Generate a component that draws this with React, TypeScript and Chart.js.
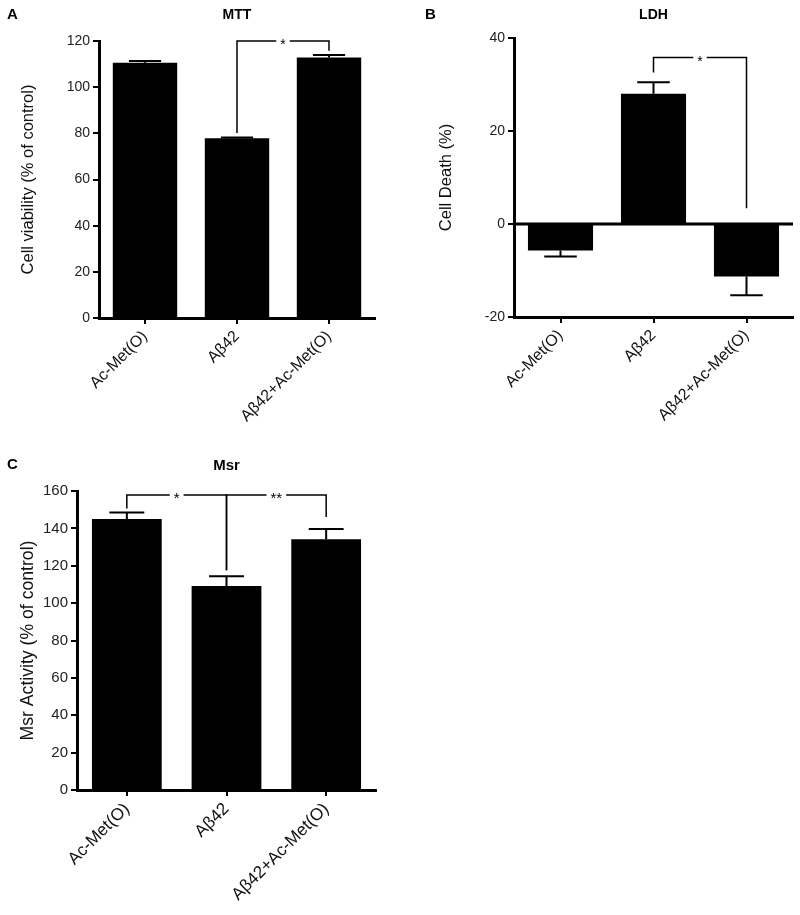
import React, { useEffect, useRef } from 'react';
import { Chart, registerables } from 'chart.js';

Chart.register(...registerables);
Chart.defaults.font.family = '"Liberation Sans", Arial, Helvetica, sans-serif';

// ---------- data ----------
const categories = ['Ac-Met(O)', 'Aβ42', 'Aβ42+Ac-Met(O)'];

const mttValues = [110.6, 77.9, 112.8];
const mttErrors = [0.7, 0.3, 1.1];
const mttTicks = { min: 0, max: 120, step: 20 };

const ldhValues = [-5.7, 28.0, -11.3];
const ldhErrors = [1.3, 2.5, 4.0];
const ldhTicks = { min: -20, max: 40, step: 20 };

const msrValues = [145.0, 109.1, 134.2];
const msrErrors = [3.5, 5.3, 5.5];
const msrTicks = { min: 0, max: 160, step: 20 };

// significance brackets: [fromIndex, toIndex, lineValue, leftLegEnd, rightLegEnd, label]
const mttBrackets: [number, number, number, number, number, string][] = [[1, 2, 120, 80.1, 115.8, '*']];
const ldhBrackets: [number, number, number, number, number, string][] = [[1, 2, 35.8, 32.6, 3.4, '*']];
const msrBrackets: [number, number, number, number, number, string][] = [
  [0, 1, 157.9, 150.6, 117.6, '*'],
  [1, 2, 157.9, 117.6, 146.1, '**'],
];

// ---------- layout ----------
type PanelSpec = {
  letter: string;
  title: string;
  yTitle: string;
  values: number[];
  errors: number[];
  brackets: [number, number, number, number, number, string][];
  ticks: { min: number; max: number; step: number };
  zeroLine: boolean;
  left: number;
  top: number;
  width: number;
  height: number;
  area: { left: number; top: number; right: number; bottom: number };
  yTitleCenter: number;
  titleY: number;
  letterX: number;
  letterY: number;
  fontScale: number;
};

const panels: PanelSpec[] = [
  {
    letter: 'A', title: 'MTT', yTitle: 'Cell viability (% of control)',
    values: mttValues, errors: mttErrors, brackets: mttBrackets, ticks: mttTicks, zeroLine: false,
    left: 0, top: 0, width: 400, height: 450,
    area: { left: 99, top: 41, right: 375, bottom: 318 },
    yTitleCenter: 28, titleY: 15, letterX: 7, letterY: 15, fontScale: 1,
  },
  {
    letter: 'B', title: 'LDH', yTitle: 'Cell Death (%)',
    values: ldhValues, errors: ldhErrors, brackets: ldhBrackets, ticks: ldhTicks, zeroLine: true,
    left: 400, top: 0, width: 400, height: 450,
    area: { left: 114, top: 38, right: 393, bottom: 317 },
    yTitleCenter: 46, titleY: 15, letterX: 25, letterY: 15, fontScale: 1,
  },
  {
    letter: 'C', title: 'Msr', yTitle: 'Msr Activity (% of control)',
    values: msrValues, errors: msrErrors, brackets: msrBrackets, ticks: msrTicks, zeroLine: false,
    left: 0, top: 450, width: 400, height: 465,
    area: { left: 77, top: 41, right: 376, bottom: 340 },
    yTitleCenter: 28, titleY: 16, letterX: 7, letterY: 15, fontScale: 1.07,
  },
];

const FONT = '"Liberation Sans", Arial, Helvetica, sans-serif';

const annotatePlugin = {
  id: 'annotate',
  afterDatasetsDraw(chart: any, _args: any, opts: any) {
    const spec: PanelSpec = opts.spec;
    const { ctx, chartArea } = chart;
    const xs = chart.scales.x;
    const ys = chart.scales.y;
    const meta = chart.getDatasetMeta(0);
    ctx.save();
    ctx.strokeStyle = '#000';
    ctx.fillStyle = '#000';

    if (spec.zeroLine) {
      const zy = ys.getPixelForValue(0);
      ctx.lineWidth = 3;
      ctx.beginPath();
      ctx.moveTo(chartArea.left, zy);
      ctx.lineTo(chartArea.right, zy);
      ctx.stroke();
    }

    // error bars
    ctx.lineWidth = 2;
    meta.data.forEach((bar: any, i: number) => {
      const v = spec.values[i];
      const e = spec.errors[i];
      const end = v >= 0 ? v + e : v - e;
      const px = bar.x;
      const p0 = ys.getPixelForValue(v);
      const p1 = ys.getPixelForValue(end);
      const half = bar.width / 4;
      ctx.beginPath();
      ctx.moveTo(px, p0);
      ctx.lineTo(px, p1);
      ctx.moveTo(px - half, p1);
      ctx.lineTo(px + half, p1);
      ctx.stroke();
    });

    // brackets
    ctx.lineWidth = 1.5;
    ctx.font = `${14 * spec.fontScale}px ${FONT}`;
    spec.brackets.forEach(([a, b, lv, le, re, label]) => {
      const xa = xs.getPixelForValue(a);
      const xb = xs.getPixelForValue(b);
      const yl = ys.getPixelForValue(lv);
      const ya = ys.getPixelForValue(le);
      const yb = ys.getPixelForValue(re);
      const mid = (xa + xb) / 2;
      const tw = ctx.measureText(label).width;
      const gap = tw / 2 + 4;
      ctx.beginPath();
      ctx.moveTo(xa, ya);
      ctx.lineTo(xa, yl);
      ctx.lineTo(mid - gap, yl);
      ctx.moveTo(mid + gap, yl);
      ctx.lineTo(xb, yl);
      ctx.lineTo(xb, yb);
      ctx.stroke();
      ctx.textAlign = 'center';
      ctx.textBaseline = 'alphabetic';
      ctx.fillText(label, mid, yl + 8);
    });

    // title and panel letter
    ctx.font = `bold ${14 * spec.fontScale}px ${FONT}`;
    ctx.textAlign = 'center';
    ctx.textBaseline = 'middle';
    ctx.fillText(spec.title, (chartArea.left + chartArea.right) / 2, spec.titleY);
    ctx.font = `bold 15px ${FONT}`;
    ctx.textAlign = 'left';
    ctx.fillText(spec.letter, spec.letterX, spec.letterY);
    ctx.restore();
  },
};

function Panel({ spec }: { spec: PanelSpec }) {
  const ref = useRef<HTMLCanvasElement | null>(null);
  useEffect(() => {
    if (!ref.current) return;
    const a = spec.area;
    const s = spec.fontScale;
    const yTitleSize = 16.5 * s;
    const chart = new Chart(ref.current, {
      type: 'bar',
      data: {
        labels: categories,
        datasets: [
          {
            data: spec.values,
            backgroundColor: '#000',
            borderWidth: 0,
            barPercentage: 0.7,
            categoryPercentage: 1,
          },
        ],
      },
      options: {
        responsive: false,
        animation: false,
        devicePixelRatio: 1,
        layout: { padding: { left: 0, top: a.top, right: spec.width - a.right, bottom: 0 } },
        plugins: {
          legend: { display: false },
          tooltip: { enabled: false },
          annotate: { spec },
        } as any,
        scales: {
          x: {
            type: 'category',
            offset: true,
            grid: {
              display: true,
              drawOnChartArea: false,
              drawTicks: true,
              offset: false,
              tickLength: 6,
              lineWidth: 2,
              color: '#000',
            },
            border: { display: true, width: 3, color: '#000' },
            ticks: {
              autoSkip: false,
              minRotation: 45,
              maxRotation: 45,
              padding: 3,
              color: '#111',
              font: { size: 16 * s, family: FONT },
            },
            afterFit: (scale: any) => {
              scale.height = spec.height - a.bottom;
            },
          },
          y: {
            type: 'linear',
            min: spec.ticks.min,
            max: spec.ticks.max,
            grid: {
              display: true,
              drawOnChartArea: false,
              drawTicks: true,
              tickLength: 6,
              lineWidth: 2,
              color: '#000',
            },
            border: { display: true, width: 3, color: '#000' },
            ticks: {
              stepSize: spec.ticks.step,
              padding: 3,
              color: '#222',
              font: { size: 14 * s, family: FONT },
            },
            title: {
              display: true,
              text: spec.yTitle,
              color: '#111',
              font: { size: yTitleSize, family: FONT },
              padding: { top: spec.yTitleCenter - yTitleSize * 0.6, bottom: 0 },
            },
            afterFit: (scale: any) => {
              scale.width = a.left;
            },
          },
        },
      } as any,
      plugins: [annotatePlugin],
    });
    return () => chart.destroy();
  }, [spec]);

  return (
    <canvas
      ref={ref}
      width={spec.width}
      height={spec.height}
      style={{
        position: 'absolute',
        left: spec.left,
        top: spec.top,
        width: spec.width,
        height: spec.height,
      }}
    />
  );
}

export default function App() {
  return (
    <div
      style={{
        position: 'absolute',
        left: 0,
        top: 0,
        width: 800,
        height: 915,
        background: '#fff',
        overflow: 'hidden',
      }}
    >
      {panels.map((p) => (
        <Panel key={p.letter} spec={p} />
      ))}
    </div>
  );
}
